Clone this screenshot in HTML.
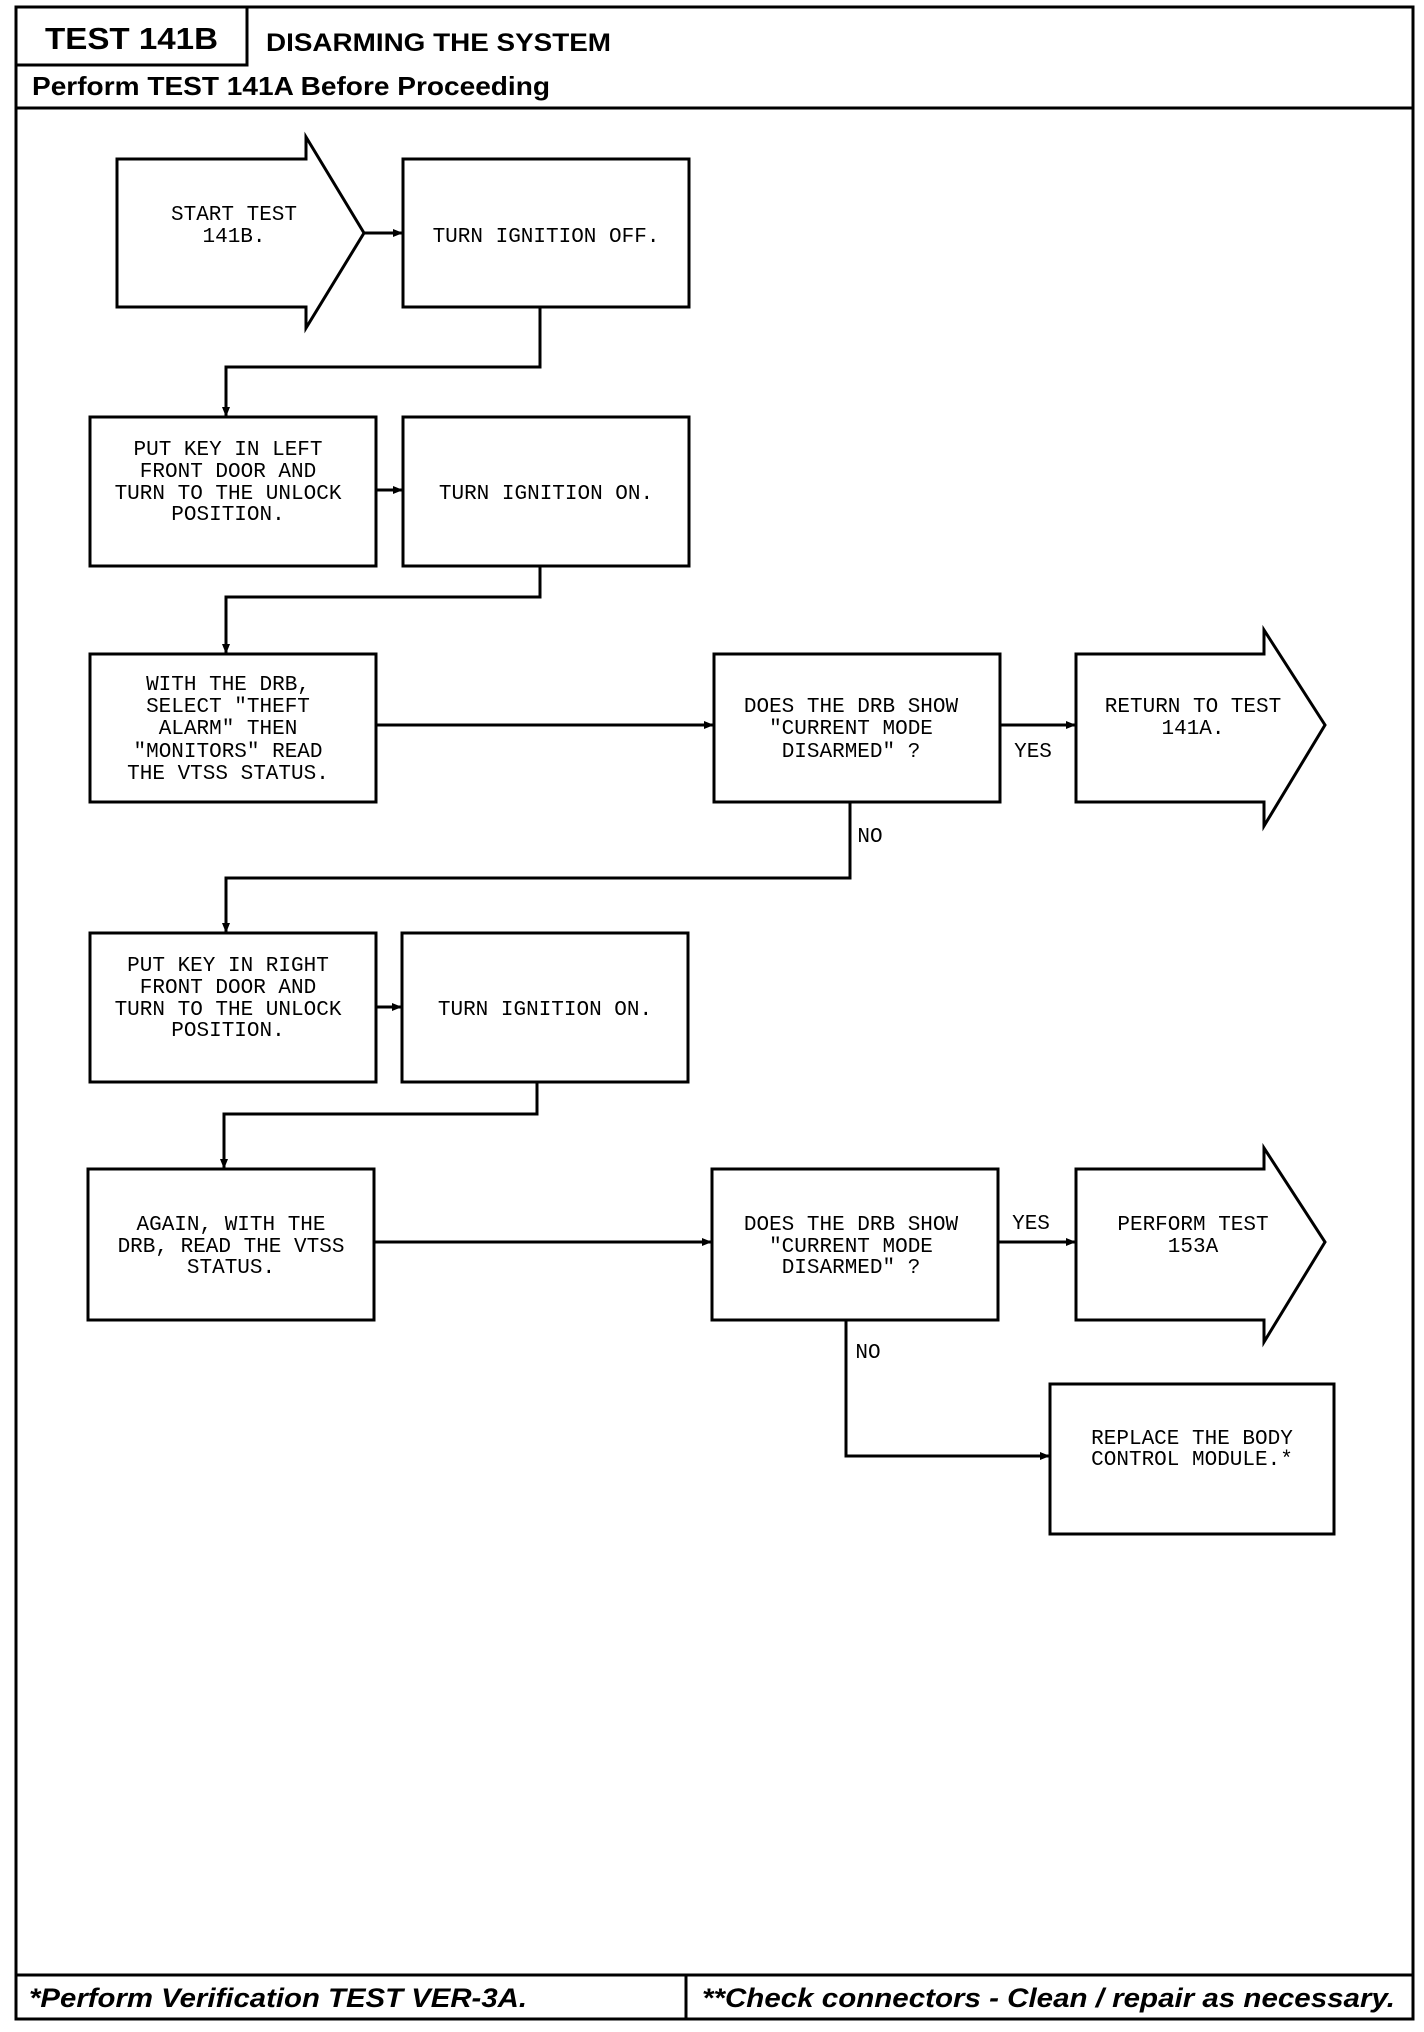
<!DOCTYPE html>
<html><head><meta charset="utf-8"><style>
html,body{margin:0;padding:0;background:#fff}
svg{display:block}
.t{font-family:"Liberation Mono",monospace;font-size:21px;fill:#000;text-anchor:middle}
.h{font-family:"Liberation Sans",sans-serif;font-weight:bold;fill:#000}
</style></head><body>
<svg width="1424" height="2032" viewBox="0 0 1424 2032" xmlns="http://www.w3.org/2000/svg">
<defs><marker id="a" markerWidth="10" markerHeight="10" refX="9" refY="5" orient="auto" markerUnits="userSpaceOnUse"><path d="M0,1 L10,5 L0,9 z" fill="#000"/></marker></defs>
<g fill="none" stroke="#000" stroke-width="3">
<rect x="16" y="7" width="1397" height="2012"/>
<rect x="16" y="7" width="231" height="58"/>
<line x1="247" y1="65" x2="1413" y2="65" stroke-width="0"/>
<line x1="16" y1="108" x2="1413" y2="108"/>
<line x1="16" y1="1975" x2="1413" y2="1975"/>
<line x1="686" y1="1975" x2="686" y2="2019"/>
<!-- start arrow -->
<path d="M117,159 L306,159 L306,137 L364,233 L306,328 L306,307 L117,307 Z"/>
<rect x="403" y="159" width="286" height="148"/>
<rect x="90" y="417" width="286" height="149"/>
<rect x="403" y="417" width="286" height="149"/>
<rect x="90" y="654" width="286" height="148"/>
<rect x="714" y="654" width="286" height="148"/>
<path d="M1076,654 L1264,654 L1264,630 L1325,725 L1264,826 L1264,802 L1076,802 Z"/>
<rect x="90" y="933" width="286" height="149"/>
<rect x="402" y="933" width="286" height="149"/>
<rect x="88" y="1169" width="286" height="151"/>
<rect x="712" y="1169" width="286" height="151"/>
<path d="M1076,1169 L1264,1169 L1264,1148 L1325,1242 L1264,1342 L1264,1320 L1076,1320 Z"/>
<rect x="1050" y="1384" width="284" height="150"/>
</g>
<g fill="none" stroke="#000" stroke-width="3" marker-end="url(#a)">
<line x1="364" y1="233" x2="402" y2="233"/>
<polyline points="540,307 540,367 226,367 226,416"/>
<line x1="376" y1="490" x2="402" y2="490"/>
<polyline points="540,566 540,597 226,597 226,653"/>
<line x1="376" y1="725" x2="713" y2="725"/>
<line x1="1000" y1="725" x2="1075" y2="725"/>
<polyline points="850,802 850,878 226,878 226,932"/>
<line x1="376" y1="1007" x2="401" y2="1007"/>
<polyline points="537,1082 537,1114 224,1114 224,1168"/>
<line x1="374" y1="1242" x2="711" y2="1242"/>
<line x1="998" y1="1242" x2="1075" y2="1242"/>
<polyline points="846,1320 846,1456 1049,1456"/>
</g>
<text class="h" x="45" y="49" font-size="31" textLength="173" lengthAdjust="spacingAndGlyphs">TEST 141B</text>
<text class="h" x="266" y="51" font-size="25" textLength="345" lengthAdjust="spacingAndGlyphs">DISARMING THE SYSTEM</text>
<text class="h" x="32" y="95" font-size="26" textLength="518" lengthAdjust="spacingAndGlyphs">Perform TEST 141A Before Proceeding</text>
<text class="h" x="29" y="2007" font-size="27" font-style="italic" textLength="498" lengthAdjust="spacingAndGlyphs">*Perform Verification TEST VER-3A.</text>
<text class="h" x="702" y="2007" font-size="27" font-style="italic" textLength="693" lengthAdjust="spacingAndGlyphs">**Check connectors - Clean / repair as necessary.</text>
<g class="t">
<text x="234" y="220">START TEST</text><text x="234" y="242">141B.</text>
<text x="546" y="242">TURN IGNITION OFF.</text>
<text x="228" y="455">PUT KEY IN LEFT</text><text x="228" y="477">FRONT DOOR AND</text><text x="228" y="499">TURN TO THE UNLOCK</text><text x="228" y="520">POSITION.</text>
<text x="546" y="499">TURN IGNITION ON.</text>
<text x="228" y="690">WITH THE DRB,</text><text x="228" y="712">SELECT "THEFT</text><text x="228" y="734">ALARM" THEN</text><text x="228" y="757">"MONITORS" READ</text><text x="228" y="779">THE VTSS STATUS.</text>
<text x="851" y="712">DOES THE DRB SHOW</text><text x="851" y="734">"CURRENT MODE</text><text x="851" y="757">DISARMED" ?</text>
<text x="1033" y="757">YES</text>
<text x="1193" y="712">RETURN TO TEST</text><text x="1193" y="734">141A.</text>
<text x="870" y="842">NO</text>
<text x="228" y="971">PUT KEY IN RIGHT</text><text x="228" y="993">FRONT DOOR AND</text><text x="228" y="1015">TURN TO THE UNLOCK</text><text x="228" y="1036">POSITION.</text>
<text x="545" y="1015">TURN IGNITION ON.</text>
<text x="231" y="1230">AGAIN, WITH THE</text><text x="231" y="1252">DRB, READ THE VTSS</text><text x="231" y="1273">STATUS.</text>
<text x="851" y="1230">DOES THE DRB SHOW</text><text x="851" y="1252">"CURRENT MODE</text><text x="851" y="1273">DISARMED" ?</text>
<text x="1031" y="1229">YES</text>
<text x="1193" y="1230">PERFORM TEST</text><text x="1193" y="1252">153A</text>
<text x="868" y="1358">NO</text>
<text x="1192" y="1444">REPLACE THE BODY</text><text x="1192" y="1465">CONTROL MODULE.*</text>
</g>
</svg>
</body></html>
